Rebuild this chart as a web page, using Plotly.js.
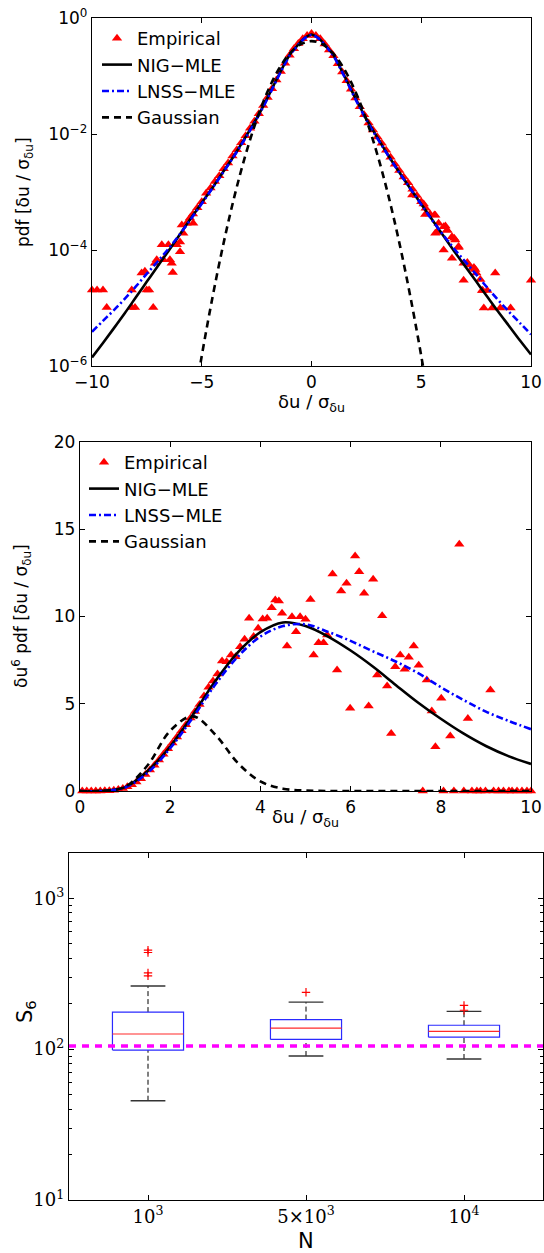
<!DOCTYPE html>
<html><head><meta charset="utf-8">
<script src="https://cdn.plot.ly/plotly-3.0.1.min.js"></script>
<style>html,body{margin:0;padding:0;background:#fff}#chart{width:544px;height:1253px}</style>
</head><body><div id="chart"></div>
<script>
// ---------- Panel 1: pdf on log scale ----------
const curveX1 = [-10,-9.5,-9,-8.5,-8,-7.5,-7,-6.5,-6,-5.5,-5,-4.5,-4,-3.5,-3,-2.5,-2,-1.5,-1,-0.75,-0.5,-0.25,0,0.25,0.5,0.75,1,1.5,2,2.5,3,3.5,4,4.5,5,5.5,6,6.5,7,7.5,8,8.5,9,9.5,10];
const nigPdf = [1.4e-6,2.5e-6,4.5e-6,8.2e-6,1.53e-5,2.85e-5,5.3e-5,9.8e-5,1.85e-4,3.5e-4,6.5e-4,1.2e-3,2.3e-3,4.4e-3,8.9e-3,0.0186,0.0425,0.102,0.23,0.30,0.385,0.47,0.52,0.47,0.385,0.30,0.229,0.100,0.0417,0.0182,8.71e-3,4.27e-3,2.19e-3,1.15e-3,6.17e-4,3.31e-4,1.78e-4,9.55e-5,5.25e-5,2.88e-5,1.58e-5,8.71e-6,4.9e-6,2.75e-6,1.58e-6];
const lnssPdf = [3.9e-6,6.0e-6,9.2e-6,1.45e-5,2.35e-5,3.9e-5,6.4e-5,1.07e-4,1.87e-4,3.4e-4,6.3e-4,1.18e-3,2.25e-3,4.3e-3,8.6e-3,0.018,0.041,0.099,0.224,0.297,0.383,0.465,0.51,0.465,0.383,0.295,0.222,0.097,0.040,0.0175,8.4e-3,4.2e-3,2.15e-3,1.15e-3,6.1e-4,3.25e-4,1.82e-4,1.05e-4,6.3e-5,3.8e-5,2.26e-5,1.38e-5,8.6e-6,5.5e-6,3.5e-6];
const gaussX1 = [-5.5,-5,-4.5,-4,-3.5,-3,-2.5,-2,-1.5,-1,-0.5,0,0.5,1,1.5,2,2.5,3,3.5,4,4.5,5,5.5];
const gaussPdf = [1.08e-7,1.49e-6,1.6e-5,1.34e-4,8.73e-4,4.43e-3,0.0175,0.054,0.1295,0.242,0.352,0.399,0.352,0.242,0.1295,0.054,0.0175,4.43e-3,8.73e-4,1.34e-4,1.6e-5,1.49e-6,1.08e-7];
const empX1 = [-5.4,-5.2,-5.0,-4.8,-4.6,-4.4,-4.2,-4.0,-3.8,-3.6,-3.4,-3.2,-3.0,-2.8,-2.6,-2.4,-2.2,-2.0,-1.8,-1.6,-1.4,-1.2,-1.0,-0.8,-0.6,-0.4,-0.2,0,
  0.2,0.4,0.6,0.8,1.0,1.2,1.4,1.6,1.8,2.0,2.2,2.4,2.6,2.8,3.0,3.2,3.4,3.6,3.8,4.0,4.2,4.4,4.6,4.8,5.0,5.2,5.4,
  -10.0,-9.77,-9.5,-9.33,-8.19,-8.19,-8.04,-7.74,-7.59,-7.51,-7.4,-7.21,-7.13,-7.05,-6.82,-6.75,-6.52,-6.45,-6.37,-6.32,-6.14,-5.99,-5.99,-5.91,-5.84,-5.69,-5.54,-5.39,
  4.59,5.11,5.18,5.6,5.64,5.64,5.7,5.79,6.02,6.02,6.1,6.17,6.19,6.4,6.4,6.5,6.55,6.7,6.7,6.93,6.93,7.1,7.16,7.31,7.4,7.46,7.51,7.69,7.77,7.8,7.85,8.01,8.23,8.37,8.6,9.07,10.0];
const empPdf1 = [4.17e-4,5.37e-4,6.76e-4,9.55e-4,1.17e-3,1.51e-3,1.91e-3,2.51e-3,3.16e-3,4.17e-3,5.37e-3,7.08e-3,9.33e-3,0.0126,0.0166,0.0224,0.0309,0.0427,0.0603,0.0851,0.120,0.166,0.229,0.295,0.363,0.437,0.501,0.54,
  0.501,0.437,0.355,0.282,0.224,0.162,0.117,0.0832,0.0589,0.0417,0.0295,0.0214,0.0155,0.0117,8.91e-3,6.92e-3,5.25e-3,3.98e-3,3.02e-3,2.34e-3,1.82e-3,1.45e-3,1.12e-3,8.71e-4,6.76e-4,5.25e-4,4.17e-4,
  2.04e-5,2.04e-5,2.04e-5,1.02e-5,2.04e-5,1.02e-5,1.02e-5,4.0e-5,4.3e-5,2.04e-5,2.04e-5,1.02e-5,5.9e-5,6.8e-5,1.23e-4,6.8e-5,1.23e-4,6.8e-5,5.9e-5,4.1e-5,1.23e-4,9.3e-5,1.38e-4,2.7e-4,1.95e-4,2.9e-4,3.55e-4,2.9e-4,
  8.9e-4,6.2e-4,4.1e-4,4.0e-4,3.98e-4,1.95e-4,2.0e-4,2.88e-4,2.51e-4,1.0e-4,2.6e-4,2.19e-4,2.2e-4,1.7e-4,7.2e-5,1.6e-4,1.48e-4,1.15e-4,1.1e-4,5.9e-5,3.0e-5,6.1e-5,5.5e-5,4.8e-5,5.0e-5,4.6e-5,4.0e-5,3.1e-5,2.0e-5,2.0e-5,1.0e-5,2.0e-5,1.0e-5,4.0e-5,1.0e-5,1.0e-5,3.0e-5];

// ---------- Panel 2: du^6 * pdf ----------
const curveX2 = [0,0.5,1,1.5,2,2.5,3,3.5,4,4.5,5,5.5,6,6.5,7,7.5,8,8.5,9,9.5,10];
const nig6 = [0,0.005,0.22,1.15,2.55,4.35,6.3,7.95,9.1,9.66,9.45,8.85,8.05,7.12,6.08,5.06,4.14,3.30,2.58,2.0,1.55];
const lnss6 = [0,0.004,0.2,1.05,2.45,4.2,6.1,7.7,8.85,9.45,9.55,9.12,8.6,8.0,7.42,6.75,5.95,5.22,4.55,4.02,3.54];
const gauss6 = [0,0.0055,0.242,1.475,3.455,4.279,3.231,1.604,0.548,0.133,0.023,0.003,0,0,0,0,0,0,0,0,0];
const empX2 = [0.05,0.15,0.25,0.35,0.45,0.55,0.65,0.75,0.85,0.95,1.05,1.15,1.25,1.35,1.45,1.55,1.65,1.75,1.85,1.95,2.05,2.15,2.25,2.35,2.45,2.55,2.65,2.75,2.85,2.95,3.05,3.15,3.25,3.35,3.45,3.55,3.65,3.75,3.85,3.95,4.05,4.15,4.25,
  4.33,4.41,4.48,4.59,4.70,4.79,4.88,5.0,5.11,5.18,5.29,5.40,5.48,5.60,5.70,5.79,5.91,5.99,6.10,6.19,6.30,6.40,6.50,6.59,6.70,6.81,6.90,6.99,7.10,7.20,7.29,7.40,7.51,7.60,7.69,7.80,7.88,8.01,8.06,8.21,8.29,8.41,8.51,8.60,8.69,8.80,8.88,8.99,9.10,9.17,9.28,9.39,9.51,9.58,9.69,9.80,9.91,10.0];
const empY2 = [0,0,0,0.001,0.003,0.008,0.02,0.04,0.08,0.15,0.24,0.36,0.52,0.7,0.95,1.2,1.48,1.78,2.1,2.42,2.75,3.1,3.45,3.8,4.18,4.55,4.95,5.45,5.95,6.3,6.7,7.45,7.4,7.8,7.7,8.27,8.7,9.9,8.85,9.32,9.85,9.9,10.5,
  10.95,10.89,10.18,8.31,9.99,9.13,9.99,9.84,10.98,7.79,8.50,8.50,8.94,12.44,6.93,11.46,11.90,4.74,13.47,12.57,11.33,4.87,12.13,6.65,10.05,6.02,3.30,7.12,7.79,6.97,7.66,8.31,7.20,0,6.36,4.58,2.54,5.31,0,3.15,0,14.14,0,4.16,0,0,0,0,5.79,0,0,0,0,0,0,0,0,0];

// ---------- Panel 3: S6 box plots ----------
const nLabels = ['10<sup>3</sup>','5×10<sup>3</sup>','10<sup>4</sup>'];
const nPos = [1,2,3];
const q1 = [98.5,116,120];
const medianS6 = [126,138,131];
const q3 = [176,157,144];
const lowerWhisker = [45.5,90,86];
const upperWhisker = [262,205,178];
const outlierCat = [1,1,1,1,2,3,3];
const outlierS6 = [453,437,320,306,238,195,181];
const refS6 = 105;

const legendFont = {family:'DejaVu Sans', size:18, color:'#000'};
const tickFont = {family:'DejaVu Sans', size:17, color:'#000'};
const serifTick = {family:'DejaVu Serif', size:18, color:'#000'};
const axBase = {showline:true, linecolor:'#000', linewidth:1.2, mirror:'ticks', ticks:'inside', ticklen:5, tickcolor:'#000', tickwidth:1, showgrid:false, zeroline:false, tickfont:tickFont};

const tri = {symbol:'triangle-up', size:9, color:'#ff0000'};
const traces = [
  {x:empX1, y:empPdf1, type:'scatter', mode:'markers', marker:tri, name:'Empirical', xaxis:'x', yaxis:'y', legend:'legend', cliponaxis:false},
  {x:curveX1, y:nigPdf, type:'scatter', mode:'lines', line:{color:'#000', width:2.6, shape:'spline'}, name:'NIG\u2212MLE', xaxis:'x', yaxis:'y', legend:'legend'},
  {x:curveX1, y:lnssPdf, type:'scatter', mode:'lines', line:{color:'#0000ff', width:2.6, dash:'7px,3px,2px,3px', shape:'spline'}, name:'LNSS\u2212MLE', xaxis:'x', yaxis:'y', legend:'legend'},
  {x:gaussX1, y:gaussPdf, type:'scatter', mode:'lines', line:{color:'#000', width:2.6, dash:'7px,5px', shape:'spline'}, name:'Gaussian', xaxis:'x', yaxis:'y', legend:'legend'},

  {x:empX2, y:empY2, type:'scatter', mode:'markers', marker:tri, name:'Empirical', xaxis:'x2', yaxis:'y2', legend:'legend2', cliponaxis:false},
  {x:curveX2, y:nig6, type:'scatter', mode:'lines', line:{color:'#000', width:2.6, shape:'spline'}, name:'NIG\u2212MLE', xaxis:'x2', yaxis:'y2', legend:'legend2'},
  {x:curveX2, y:lnss6, type:'scatter', mode:'lines', line:{color:'#0000ff', width:2.6, dash:'7px,3px,2px,3px', shape:'spline'}, name:'LNSS\u2212MLE', xaxis:'x2', yaxis:'y2', legend:'legend2'},
  {x:curveX2, y:gauss6, type:'scatter', mode:'lines', line:{color:'#000', width:2.6, dash:'7px,5px', shape:'spline'}, name:'Gaussian', xaxis:'x2', yaxis:'y2', legend:'legend2'}
];

// box plots built from the quartile / whisker arrays
const hw = 0.225, cw = 0.11;
const boxX=[], boxY=[], medX=[], medY=[], whX=[], whY=[], capX=[], capY=[];
nPos.forEach((p,i)=>{
  boxX.push(p-hw,p+hw,p+hw,p-hw,p-hw,null); boxY.push(q1[i],q1[i],q3[i],q3[i],q1[i],null);
  medX.push(p-hw,p+hw,null); medY.push(medianS6[i],medianS6[i],null);
  whX.push(p,p,null,p,p,null); whY.push(q3[i],upperWhisker[i],null,lowerWhisker[i],q1[i],null);
  capX.push(p-cw,p+cw,null,p-cw,p+cw,null); capY.push(upperWhisker[i],upperWhisker[i],null,lowerWhisker[i],lowerWhisker[i],null);
});
traces.push({x:whX, y:whY, type:'scatter', mode:'lines', line:{color:'#000', width:1, dash:'5px,3px'}, showlegend:false, xaxis:'x3', yaxis:'y3'});
traces.push({x:capX, y:capY, type:'scatter', mode:'lines', line:{color:'#333', width:1.4}, showlegend:false, xaxis:'x3', yaxis:'y3'});
traces.push({x:boxX, y:boxY, type:'scatter', mode:'lines', line:{color:'#2a2aff', width:1.2}, showlegend:false, xaxis:'x3', yaxis:'y3'});
traces.push({x:medX, y:medY, type:'scatter', mode:'lines', line:{color:'#ff2a2a', width:1.2}, showlegend:false, xaxis:'x3', yaxis:'y3'});
traces.push({x:outlierCat, y:outlierS6, type:'scatter', mode:'markers', marker:{symbol:'cross-thin-open', size:6, color:'#ff0000', line:{color:'#ff0000', width:1.2}}, showlegend:false, xaxis:'x3', yaxis:'y3', cliponaxis:false});

const W=544, H=1253;
const px = v => v/W, py = v => 1 - v/H;
const layout = {
  width:W, height:H, margin:{l:0,r:0,t:0,b:0}, paper_bgcolor:'#fff', plot_bgcolor:'#fff', showlegend:true,
  font:{family:'DejaVu Sans', color:'#000'},
  xaxis: Object.assign({}, axBase, {domain:[px(92),px(531)], range:[-10,10], tickvals:[-10,-5,0,5,10], anchor:'y'}),
  yaxis: Object.assign({}, axBase, {domain:[py(366),py(18)], type:'log', range:[-6,0], tickvals:[1e-6,1e-4,1e-2,1], ticktext:['10<sup>\u22126</sup>','10<sup>\u22124</sup>','10<sup>\u22122</sup>','10<sup>0</sup>'], anchor:'x'}),
  xaxis2: Object.assign({}, axBase, {domain:[px(80),px(531)], range:[0,10], tickvals:[0,2,4,6,8,10], anchor:'y2'}),
  yaxis2: Object.assign({}, axBase, {domain:[py(791),py(442)], range:[0,20], tickvals:[0,5,10,15,20], anchor:'x2'}),
  xaxis3: Object.assign({}, axBase, {domain:[px(69),px(543)], range:[0.5,3.5], tickvals:nPos, ticktext:nLabels, anchor:'y3', tickfont:serifTick}),
  yaxis3: Object.assign({}, axBase, {domain:[py(1200),py(853)], type:'log', range:[1,3.3], tickvals:[10,100,1000], ticktext:['10<sup>1</sup>','10<sup>2</sup>','10<sup>3</sup>'], anchor:'x3', tickfont:serifTick,
     minor:{ticks:'inside', ticklen:3, tickcolor:'#000', tickmode:'array', tickvals:[20,30,40,50,60,70,80,90,200,300,400,500,600,700,800,900,2000]}}),
  legend: {x:px(97), y:py(20), xanchor:'left', yanchor:'top', bgcolor:'rgba(0,0,0,0)', borderwidth:0, font:legendFont, itemwidth:30},
  legend2: {x:px(84), y:py(444), xanchor:'left', yanchor:'top', bgcolor:'rgba(0,0,0,0)', borderwidth:0, font:legendFont, itemwidth:30},
  shapes: [{type:'line', xref:'x3 domain', yref:'y3', x0:0, x1:1, y0:refS6, y1:refS6, line:{color:'#ff00ff', width:3.5, dash:'7px,6px'}}],
  annotations: [
    {text:'\u03b4u / \u03c3<sub>\u03b4u</sub>', xref:'paper', yref:'paper', x:px(311), y:py(403), xanchor:'center', yanchor:'middle', showarrow:false, font:{family:'DejaVu Sans', size:18}},
    {text:'pdf [\u03b4u / \u03c3<sub>\u03b4u</sub>]', xref:'paper', yref:'paper', x:px(24), y:py(192), xanchor:'center', yanchor:'middle', textangle:-90, showarrow:false, font:{family:'DejaVu Sans', size:17}},
    {text:'\u03b4u / \u03c3<sub>\u03b4u</sub>', xref:'paper', yref:'paper', x:px(305), y:py(818), xanchor:'center', yanchor:'middle', showarrow:false, font:{family:'DejaVu Sans', size:18}},
    {text:'\u03b4u<sup>6</sup> pdf [\u03b4u / \u03c3<sub>\u03b4u</sub>]', xref:'paper', yref:'paper', x:px(22), y:py(616), xanchor:'center', yanchor:'middle', textangle:-90, showarrow:false, font:{family:'DejaVu Sans', size:17}},
    {text:'S<sub>6</sub>', xref:'paper', yref:'paper', x:px(26), y:py(1012), xanchor:'center', yanchor:'middle', textangle:-90, showarrow:false, font:{family:'DejaVu Sans', size:21}},
    {text:'N', xref:'paper', yref:'paper', x:px(306), y:py(1241), xanchor:'center', yanchor:'middle', showarrow:false, font:{family:'DejaVu Sans', size:21}}
  ]
};
Plotly.newPlot('chart', traces, layout, {displayModeBar:false, staticPlot:true});
</script></body></html>
